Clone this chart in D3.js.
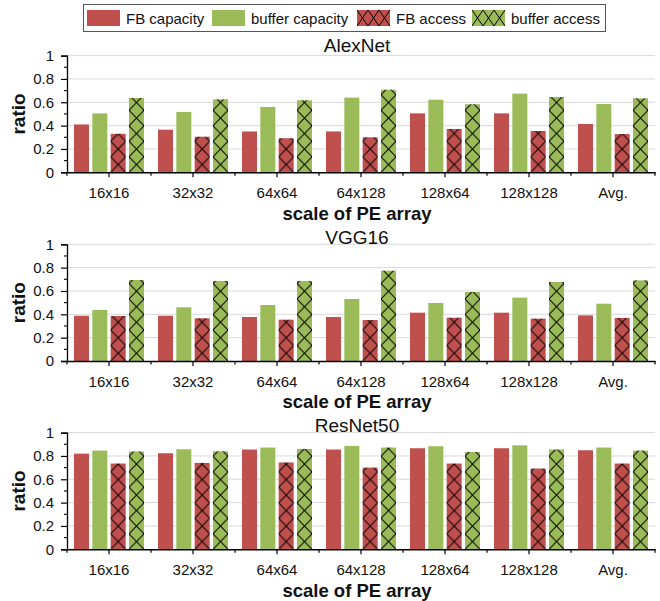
<!DOCTYPE html>
<html>
<head>
<meta charset="utf-8">
<script src="https://cdn.jsdelivr.net/npm/d3@7"></script>
<style>
  html, body { margin: 0; padding: 0; background: #fff; }
  svg { display: block; font-family: "Liberation Sans", Arial, sans-serif; }
</style>
</head>
<body>
<svg id="chart" width="660" height="601"></svg>
<script>
// ---------- data ----------
const categories = ["16x16", "32x32", "64x64", "64x128", "128x64", "128x128", "Avg."];
const seriesNames = ["FB capacity", "buffer capacity", "FB access", "buffer access"];
const networks = ["AlexNet", "VGG16", "ResNet50"];
const yTicks = [0, 0.2, 0.4, 0.6, 0.8, 1];
const yMinorTicks = [0.1, 0.3, 0.5, 0.7, 0.9];

const alexFbCapacity  = [0.410, 0.365, 0.350, 0.350, 0.505, 0.505, 0.414];
const alexBufCapacity = [0.505, 0.517, 0.560, 0.640, 0.622, 0.674, 0.585];
const alexFbAccess    = [0.330, 0.305, 0.292, 0.300, 0.371, 0.354, 0.328];
const alexBufAccess   = [0.637, 0.625, 0.617, 0.708, 0.583, 0.645, 0.634];

const vggFbCapacity  = [0.388, 0.388, 0.377, 0.377, 0.414, 0.414, 0.391];
const vggBufCapacity = [0.437, 0.460, 0.480, 0.531, 0.497, 0.543, 0.491];
const vggFbAccess    = [0.386, 0.366, 0.354, 0.351, 0.371, 0.363, 0.369];
const vggBufAccess   = [0.694, 0.686, 0.686, 0.774, 0.591, 0.677, 0.691];

const resFbCapacity  = [0.820, 0.823, 0.855, 0.855, 0.866, 0.866, 0.849];
const resBufCapacity = [0.846, 0.857, 0.872, 0.886, 0.883, 0.891, 0.872];
const resFbAccess    = [0.735, 0.740, 0.744, 0.700, 0.735, 0.692, 0.735];
const resBufAccess   = [0.838, 0.840, 0.860, 0.872, 0.834, 0.855, 0.846];

const panelData = [
  [alexFbCapacity, alexBufCapacity, alexFbAccess, alexBufAccess],
  [vggFbCapacity, vggBufCapacity, vggFbAccess, vggBufAccess],
  [resFbCapacity, resBufCapacity, resFbAccess, resBufAccess]
];

// ---------- style / layout ----------
const RED = "#C0504D", GREEN = "#9BBB59";
const seriesColor = [RED, GREEN, RED, GREEN];
const seriesHatch = [false, false, true, true];
const FONT = "'Liberation Sans', Arial, sans-serif";

const plotLeft = 67, plotRight = 655, plotH = 116.7;
const panelBase = [172.3, 361, 549.3];
const titleGap = [3.3, 0.3, 0.6];

const svg = d3.select("#chart");
const defs = svg.append("defs");

const x0 = d3.scaleBand().domain(categories).range([plotLeft, plotRight]).padding(0);
const cw = x0.bandwidth();
const x1 = d3.scaleBand().domain(seriesNames)
  .range([cw * 7 / 84, cw * 77 / 84]).paddingInner(0.182).paddingOuter(0);
const bw = x1.bandwidth();

function makeHatch(id, color, px, py, w, h) {
  const p = defs.append("pattern").attr("id", id)
    .attr("patternUnits", "userSpaceOnUse")
    .attr("x", px).attr("y", py).attr("width", w).attr("height", h);
  p.append("rect").attr("width", w).attr("height", h).attr("fill", color);
  const s = { stroke: "#000", "stroke-width": 1 };
  const segs = [[0, 0, w, h], [w, 0, 0, h], [-1, h - 1, 1, h + 1], [w - 1, -1, w + 1, 1], [-1, 1, 1, -1], [w - 1, h + 1, w + 1, h - 1]];
  segs.forEach(sg => {
    p.append("line").attr("x1", sg[0]).attr("y1", sg[1]).attr("x2", sg[2]).attr("y2", sg[3])
      .attr("stroke", s.stroke).attr("stroke-width", s["stroke-width"]);
  });
}

networks.forEach((name, pi) => {
  const base = panelBase[pi];
  const y = d3.scaleLinear().domain([0, 1]).range([base, base - plotH]);
  const g = svg.append("g");

  // gridlines
  g.selectAll("line.grid").data(yTicks.filter(t => t > 0)).enter().append("line")
    .attr("x1", plotLeft).attr("x2", plotRight)
    .attr("y1", d => y(d)).attr("y2", d => y(d))
    .attr("stroke", "#d9d9d9").attr("stroke-width", 1);

  // title
  g.append("text").attr("x", 357).attr("y", y(1) - titleGap[pi])
    .attr("text-anchor", "middle").attr("font-size", 19).attr("font-family", FONT)
    .attr("fill", "#111").text(name);

  // bars
  const vals = panelData[pi];
  categories.forEach((cat, ci) => {
    seriesNames.forEach((sn, si) => {
      const v = vals[si][ci];
      const bx = x0(cat) + x1(sn);
      let fill = seriesColor[si];
      if (seriesHatch[si]) {
        const id = `h-${pi}-${ci}-${si}`;
        makeHatch(id, seriesColor[si], bx, base, bw, 15.5);
        fill = `url(#${id})`;
      }
      g.append("rect")
        .attr("x", bx).attr("y", y(v))
        .attr("width", bw).attr("height", base - y(v))
        .attr("fill", fill);
    });
  });

  // y axis
  const yAxis = d3.axisLeft(y).tickValues(yTicks).tickSize(6).tickPadding(7)
    .tickFormat(d => d3.format("~g")(d));
  const ya = g.append("g").attr("transform", `translate(${plotLeft},0)`).call(yAxis);
  ya.select(".domain").attr("stroke", "#000").attr("stroke-width", 1.3);
  ya.selectAll(".tick line").attr("stroke", "#000").attr("stroke-width", 1.2);
  ya.selectAll("text").attr("font-size", 15).attr("font-family", FONT).attr("fill", "#111");
  g.selectAll("line.minor").data(yMinorTicks).enter().append("line")
    .attr("x1", plotLeft - 3).attr("x2", plotLeft)
    .attr("y1", d => y(d)).attr("y2", d => y(d))
    .attr("stroke", "#000").attr("stroke-width", 1.1);

  // x axis
  const xAxis = d3.axisBottom(x0).tickSize(5).tickPadding(10).tickSizeOuter(0);
  const xa = g.append("g").attr("transform", `translate(0,${base})`).call(xAxis);
  xa.select(".domain").attr("stroke", "#000").attr("stroke-width", 1.5);
  xa.selectAll(".tick line").attr("stroke", "#000").attr("stroke-width", 1.2);
  xa.selectAll("text").attr("font-size", 15).attr("font-family", FONT).attr("fill", "#111");
  const bounds = categories.map(c => x0(c)).concat([plotRight]);
  g.selectAll("line.bnd").data(bounds).enter().append("line")
    .attr("x1", d => d).attr("x2", d => d)
    .attr("y1", base).attr("y2", base + 3.5)
    .attr("stroke", "#000").attr("stroke-width", 1.2);

  // axis labels
  g.append("text").attr("x", 357).attr("y", base + 47.3)
    .attr("text-anchor", "middle").attr("font-size", 18.5).attr("font-weight", "bold")
    .attr("font-family", FONT).attr("fill", "#111").text("scale of PE array");
  g.append("text")
    .attr("transform", `translate(25,${(y(0) + y(1)) / 2}) rotate(-90)`)
    .attr("text-anchor", "middle").attr("font-size", 19).attr("font-weight", "bold")
    .attr("font-family", FONT).attr("fill", "#111").text("ratio");
});

// ---------- legend ----------
const leg = svg.append("g");
leg.append("rect").attr("x", 83.5).attr("y", 4.5).attr("width", 522).attr("height", 27)
  .attr("fill", "#fff").attr("stroke", "#555").attr("stroke-width", 1);
const legX = [87, 212, 357, 472];
seriesNames.forEach((sn, si) => {
  let fill = seriesColor[si];
  if (seriesHatch[si]) {
    const id = `leg-${si}`;
    makeHatch(id, seriesColor[si], legX[si], 10, 11, 16);
    fill = `url(#${id})`;
  }
  leg.append("rect").attr("x", legX[si]).attr("y", 10).attr("width", 33).attr("height", 16).attr("fill", fill);
  leg.append("text").attr("x", legX[si] + 39).attr("y", 23.5)
    .attr("font-size", 15).attr("font-family", FONT).attr("fill", "#111").text(sn);
});
</script>
</body>
</html>
